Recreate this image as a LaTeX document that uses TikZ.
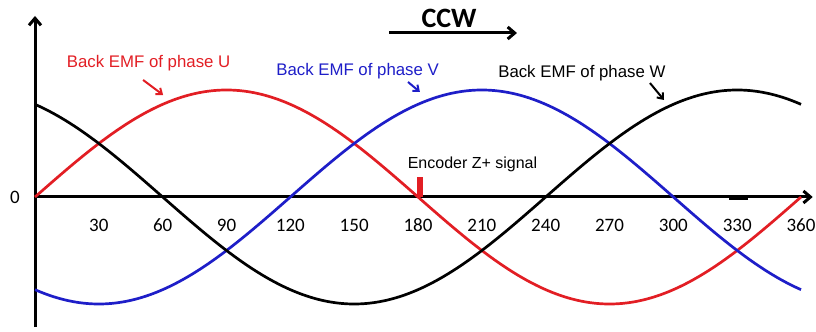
\documentclass[tikz,border=0pt]{standalone}
\usepackage{fontspec}
\setmainfont{Liberation Sans}
\newfontfamily\calfont{Carlito}
\usetikzlibrary{arrows.meta}

\definecolor{emfred}{RGB}{226,30,36}
\definecolor{emfblue}{RGB}{30,30,200}

\begin{document}
\begin{tikzpicture}[>={Straight Barb[length=7pt,width=12pt]}, x=2.1278pt, y=1pt]
		 \tikzstyle{axis line} = [->, line width=3pt];
		 \tikzstyle{emf label} = [inner sep=0pt, font=\fontsize{16.8}{18}\selectfont];
		 \tikzstyle{tick label} = [inner sep=0pt, font=\calfont\fontsize{19}{20}\selectfont];
		 \tikzstyle{wave} = [line width=2.7pt, smooth, samples=121, domain=0:360];
		 \tikzstyle{pointer} = [->, line width=2pt, >={Straight Barb[length=5pt,width=8pt]}];

		 \useasboundingbox (-16.45,-134) rectangle (367.04,197);

		 \coordinate (o)     at (0,0);
		 \coordinate (x_end) at (365.5,0);
		 \coordinate (y_top) at (0,181);
		 \coordinate (y_bot) at (0,-130);

		 \draw [axis line] (o) -- (x_end);
		 \draw [axis line] (y_bot) -- (y_top);

		 \draw [wave, emfred]  plot (\x, {107*sin(\x)});
		 \draw [wave, emfblue] plot (\x, {107*sin(\x-120)});
		 \draw [wave, black]   plot (\x, {107*sin(\x+120)});

		 \node [tick label] (t_0) at (-9.4,0) {0};
		 \foreach \a in {30,60,...,360}
		 	\node [tick label] (t_\a) at (\a,-28) {\a};

		 \draw [emfred, line width=5.5pt] (181,0) -- (181,20);
		 \draw [line width=4pt] (326,-1) -- (335,-1);

		 \node [inner sep=0pt, font=\calfont\bfseries\fontsize{28}{30}\selectfont] (ccw) at (194.6,179) {CCW};
		 \coordinate (ccw_tail) at (166.4,164);
		 \coordinate (ccw_tip)  at (226.5,164);
		 \draw [axis line] (ccw_tail) -- (ccw_tip);

		 \node [emf label, text=emfred]  (emf_u) at (53.4,134) {Back EMF of phase U};
		 \node [emf label, text=emfblue] (emf_v) at (151.6,126) {Back EMF of phase V};
		 \node [emf label]               (emf_w) at (257,124)   {Back EMF of phase W};
		 \node [emf label, font=\fontsize{16}{18}\selectfont] (enc) at (205.6,33) {Encoder Z+ signal};

		 \coordinate (u_tail) at (50.8,117);
		 \coordinate (u_tip)  at (60.2,102);
		 \coordinate (v_tail) at (175.3,115);
		 \coordinate (v_tip)  at (180.9,105);
		 \coordinate (w_tail) at (289,114);
		 \coordinate (w_tip)  at (295.6,97);

		 \draw [pointer, emfred]  (u_tail) -- (u_tip);
		 \draw [pointer, emfblue] (v_tail) -- (v_tip);
		 \draw [pointer, black]   (w_tail) -- (w_tip);
\end{tikzpicture}
\end{document}
